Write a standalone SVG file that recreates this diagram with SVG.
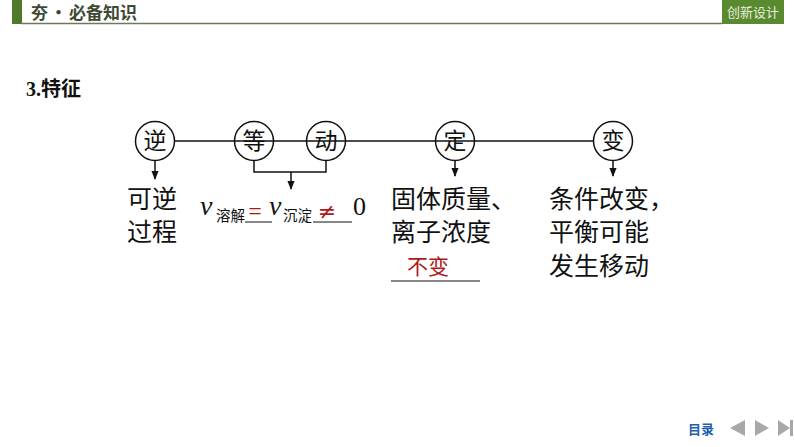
<svg xmlns="http://www.w3.org/2000/svg" width="794" height="447" viewBox="0 0 794 447">
<style>
.cjk{font-family:"Liberation Serif","Noto Sans CJK SC",serif;fill:#111}
.big{font-size:25px}
.circ{fill:none;stroke:#111;stroke-width:1.5}
.ln{stroke:#111;stroke-width:1.5;fill:none}
.red{fill:#b01818}
</style>
<defs>
<marker id="ah" viewBox="0 0 10 10" refX="9" refY="5" markerWidth="6" markerHeight="6" orient="auto">
<path d="M0,1 L10,5 L0,9 z" fill="#111"/>
</marker>
</defs>
<rect width="794" height="447" fill="#ffffff"/>
<g id="header">
<rect x="12" y="0" width="10" height="24" fill="#4e7a2a"/>
<line x1="21" y1="23.5" x2="722" y2="23.5" stroke="#6a7a5a" stroke-width="1.5"/>
<text x="31" y="19" font-family="Noto Sans CJK SC, sans-serif" font-weight="bold" font-size="17" fill="#3e4a34">夯<tspan dx="2">·</tspan><tspan dx="2">必备知识</tspan></text>
<rect x="722" y="0" width="62" height="24" fill="#5a8a30"/>
<text x="753" y="17" text-anchor="middle" font-family="Noto Sans CJK SC, sans-serif" font-size="13" fill="#e6efdc">创新设计</text>
</g>
<text x="26" y="96" font-family="Liberation Serif, Noto Sans CJK SC, serif" font-weight="bold" font-size="20" fill="#111">3.<tspan font-family="Noto Sans CJK SC, sans-serif">特征</tspan></text>
<g id="connectors">
<line class="ln" x1="175" y1="141" x2="593" y2="141"/>
<line class="ln" x1="155" y1="161" x2="155" y2="179" marker-end="url(#ah)"/>
<polyline class="ln" points="254,161 254,172 326,172 326,161"/>
<line class="ln" x1="291" y1="172" x2="291" y2="189" marker-end="url(#ah)"/>
<line class="ln" x1="455" y1="161" x2="455" y2="176" marker-end="url(#ah)"/>
<line class="ln" x1="613" y1="161" x2="613" y2="176" marker-end="url(#ah)"/>
</g>
<g id="n-ni">
<circle class="circ" cx="155" cy="141" r="19.5" fill="#fff"/>
<text class="cjk" x="155" y="149" font-size="23" text-anchor="middle">逆</text>
</g>
<g id="n-deng">
<circle class="circ" cx="254" cy="141" r="19.5" fill="#fff"/>
<text class="cjk" x="254" y="149" font-size="23" text-anchor="middle">等</text>
</g>
<g id="n-dong">
<circle class="circ" cx="326" cy="141" r="19.5" fill="#fff"/>
<text class="cjk" x="326" y="149" font-size="23" text-anchor="middle">动</text>
</g>
<g id="n-ding">
<circle class="circ" cx="455" cy="141" r="19.5" fill="#fff"/>
<text class="cjk" x="455" y="149" font-size="23" text-anchor="middle">定</text>
</g>
<g id="n-bian">
<circle class="circ" cx="613" cy="141" r="19.5" fill="#fff"/>
<text class="cjk" x="613" y="149" font-size="23" text-anchor="middle">变</text>
</g>
<g id="t-ni">
<text class="cjk big" x="127" y="208">可逆</text>
<text class="cjk big" x="127" y="241">过程</text>
</g>
<g id="t-dengdong">
<text x="200" y="215" font-family="Liberation Serif, serif" font-style="italic" font-size="28" fill="#111">v</text>
<text class="cjk" x="216" y="221" font-size="14.5">溶解</text>
<line x1="245" y1="222" x2="272" y2="222" stroke="#111" stroke-width="1"/>
<text class="red" x="255" y="219" font-family="Liberation Serif, serif" font-size="24" text-anchor="middle">=</text>
<text x="269" y="215" font-family="Liberation Serif, serif" font-style="italic" font-size="28" fill="#111">v</text>
<text class="cjk" x="283" y="221" font-size="14.5">沉淀</text>
<line x1="313" y1="222" x2="352" y2="222" stroke="#111" stroke-width="1"/>
<text class="red" x="327" y="219" font-family="DejaVu Serif, serif" font-size="22" text-anchor="middle">≠</text>
<text x="353" y="215" font-family="Liberation Serif, serif" font-size="26" fill="#111">0</text>
</g>
<g id="t-ding">
<text class="cjk big" x="391" y="208">固体质量、</text>
<text class="cjk big" x="391" y="241">离子浓度</text>
<text class="red" x="407" y="274" font-family="Noto Sans CJK SC, sans-serif" font-size="21">不变</text>
<line x1="391" y1="281" x2="480" y2="281" stroke="#111" stroke-width="1.2"/>
</g>
<g id="t-bian">
<text class="cjk big" x="549" y="208">条件改变，</text>
<text class="cjk big" x="549" y="241">平衡可能</text>
<text class="cjk big" x="549" y="275">发生移动</text>
</g>
<g id="nav">
<text x="688" y="434" font-family="Noto Sans CJK SC, sans-serif" font-weight="bold" font-size="13" fill="#1f5fa8">目录</text>
<polygon points="730,428 745,420 745,436" fill="#a8a8a8"/>
<polygon points="755,420 769,428 755,436" fill="#a8a8a8"/>
<polygon points="778,420 790,428 778,436" fill="#a8a8a8"/>
<rect x="790" y="420" width="3" height="16" fill="#a8a8a8"/>
</g>
</svg>
